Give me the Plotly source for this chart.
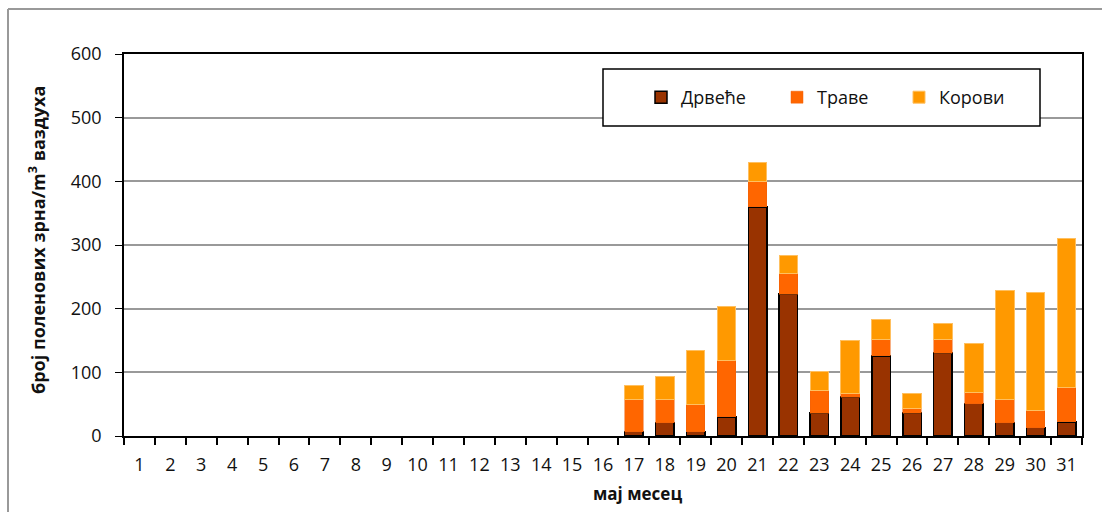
import plotly.graph_objects as go

# May, days 1-31; pollen counts per m³ of air
days = [str(d) for d in range(1, 32)]
drvece = [0] * 16 + [7, 21, 7, 30, 360, 223, 36, 61, 126, 36, 130, 51, 21, 13, 22]
trave = [0] * 16 + [51, 37, 43, 88, 40, 32, 35, 5, 25, 7, 21, 17, 37, 27, 54]
korovi = [0] * 16 + [22, 36, 85, 86, 30, 28, 30, 84, 32, 24, 26, 77, 170, 185, 235]

series_names = ["Дрвеће", "Траве", "Корови"]
y_ticks = [0, 100, 200, 300, 400, 500, 600]

W, H = 1102, 512
L, R, T, B = 124, 1082, 54, 436  # plot area in pixels


def px(x):
    return (x - L) / (R - L)


def py(y):
    return (B - y) / (B - T)


def no_zero(vals):
    # empty days get no bar at all (avoids a flat outlined sliver on the axis)
    return [v if v else None for v in vals]


font_family = "Open Sans, DejaVu Sans, sans-serif"

fig = go.Figure()
fig.add_trace(go.Bar(
    x=days, y=no_zero(drvece), name=series_names[0], legend="legend",
    marker=dict(color="#993300", line=dict(color="#000000", width=1.5)),
))
fig.add_trace(go.Bar(
    x=days, y=no_zero(trave), name=series_names[1], legend="legend2",
    marker=dict(color="#FF6600", line=dict(color="#F0600A", width=0.5)),
))
fig.add_trace(go.Bar(
    x=days, y=no_zero(korovi), name=series_names[2], legend="legend3",
    marker=dict(color="#FF9900", line=dict(color="#FFC060", width=1)),
))


def legend_at(x_pix):
    return dict(
        orientation="h", x=px(x_pix), y=py(97.5),
        xanchor="left", yanchor="middle",
        bgcolor="rgba(0,0,0,0)", borderwidth=0,
        font=dict(size=18, family=font_family),
    )


fig.update_layout(
    width=W, height=H,
    barmode="stack", bargap=0.4,
    margin=dict(l=L, r=W - R, t=T, b=H - B),
    paper_bgcolor="white", plot_bgcolor="white",
    font=dict(family=font_family, size=18, color="#111111"),
    showlegend=True,
    legend=legend_at(641),
    legend2=legend_at(777),
    legend3=legend_at(899),
    xaxis=dict(
        type="category", showline=True, linecolor="black", linewidth=1.5,
        mirror=True, ticks="outside", ticklen=7, tickcolor="black",
        tickwidth=1.5, tickson="boundaries", showgrid=False,
        ticklabelstandoff=12, tickfont=dict(size=18),
    ),
    yaxis=dict(
        range=[0, 600], tickvals=y_ticks, showline=True, linecolor="black",
        linewidth=1.5, mirror=True, ticks="outside", ticklen=7,
        tickcolor="black", tickwidth=1, showgrid=True, gridcolor="#999999",
        gridwidth=1.5, zeroline=False, ticklabelstandoff=10,
        tickfont=dict(size=18),
    ),
    shapes=[
        # outer chart frame
        dict(type="line", xref="paper", yref="paper", x0=px(8), x1=px(1110),
             y0=py(9), y1=py(9), line=dict(color="#999999", width=2)),
        dict(type="line", xref="paper", yref="paper", x0=px(8), x1=px(8),
             y0=py(9), y1=py(520), line=dict(color="#999999", width=2)),
        # legend frame
        dict(type="rect", xref="paper", yref="paper", x0=px(603), x1=px(1040),
             y0=py(69), y1=py(126), line=dict(color="black", width=1.5),
             fillcolor="white", layer="above"),
    ],
    annotations=[
        dict(text="<b>број поленових зрна/m<sup>3</sup> ваздуха</b>",
             xref="paper", yref="paper", x=px(37), y=py(240),
             xanchor="center", yanchor="middle", textangle=-90,
             showarrow=False, font=dict(size=18, family=font_family)),
        dict(text="<b>мај месец</b>",
             xref="paper", yref="paper", x=px(637), y=py(493),
             xanchor="center", yanchor="middle",
             showarrow=False, font=dict(size=17, family=font_family)),
    ],
)

fig.write_html("out.html")
